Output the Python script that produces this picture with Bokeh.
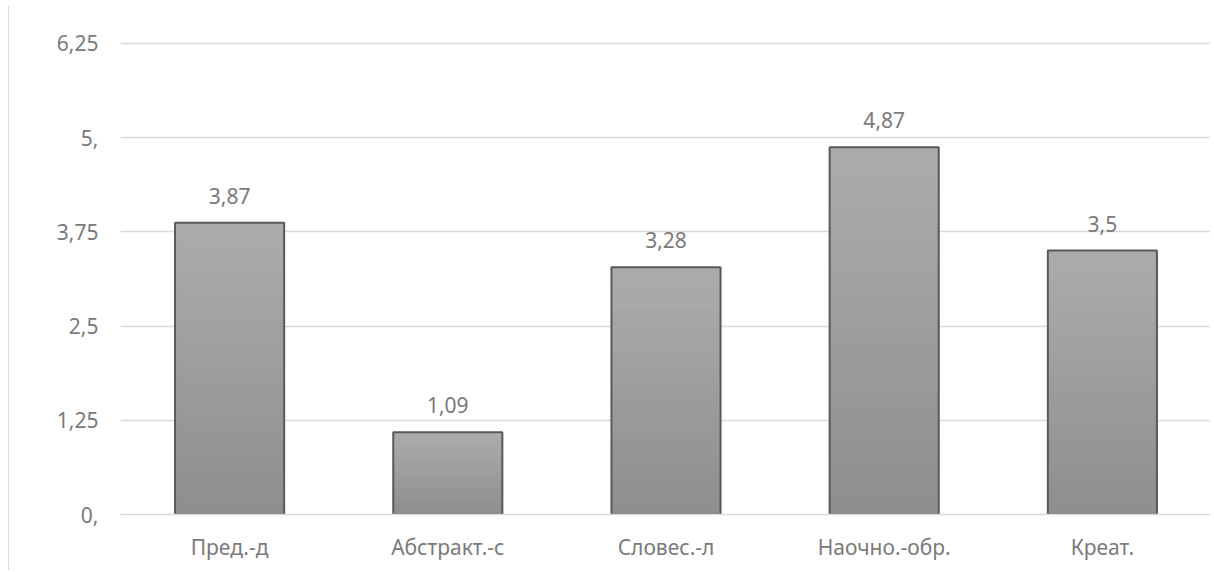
from bokeh.plotting import figure
from bokeh.models import ColumnDataSource, FixedTicker, FactorRange, Range1d
from bokeh.core.properties import value
from bokeh.embed import file_html
from bokeh.resources import INLINE

categories = ["Пред.-д", "Абстракт.-с", "Словес.-л", "Наочно.-обр.", "Креат."]
values = [3.87, 1.09, 3.28, 4.87, 3.5]
y_ticks = [0, 1.25, 2.5, 3.75, 5, 6.25]
y_tick_labels = ["0,", "1,25", "2,5", "3,75", "5,", "6,25"]

FONT = "Noto Sans"
TEXT_COLOR = "#7a7a7a"
FS = "21px"

p = figure(width=1202, height=564, x_range=FactorRange(*categories),
           y_range=Range1d(0, 6.3), output_backend="svg", toolbar_location=None,
           min_border_left=111, min_border_right=0, min_border_top=33, min_border_bottom=56)
p.styles = {"border-left": "1.5px solid #d9d9d9", "margin-left": "8px", "margin-top": "6px"}
p.outline_line_color = None
p.background_fill_color = "white"

# gradient fill via strips (light at top, darker at bottom)
N = 24
top_rgb = (0xAC, 0xAC, 0xAC)
bot_rgb = (0x8E, 0x8E, 0x8E)
sx, sb, st, sc = [], [], [], []
for c, v in zip(categories, values):
    for k in range(N):
        t = (k + 0.5) / N
        rgb = tuple(int(round(b + (a - b) * t)) for a, b in zip(top_rgb, bot_rgb))
        sx.append(c)
        sb.append(v * k / N)
        st.append(min(v, v * (k + 1) / N + 0.03))
        sc.append("#%02x%02x%02x" % rgb)
p.vbar(x=sx, bottom=sb, top=st, width=0.5, fill_color=sc, line_color=None)

src = ColumnDataSource(dict(cat=categories, val=values,
                            lbl=[("%g" % v).replace(".", ",") for v in values]))
p.vbar(x="cat", top="val", width=0.5, source=src, fill_alpha=0,
       line_color="#595959", line_width=2)
p.text(x="cat", y="val", text="lbl", source=src, text_align="center",
       text_baseline="alphabetic", y_offset=-27, text_font=value(FONT),
       text_font_size=FS, text_color=TEXT_COLOR)

p.yaxis.ticker = FixedTicker(ticks=y_ticks)
p.yaxis.major_label_overrides = {t: l for t, l in zip(y_ticks, y_tick_labels)}
p.yaxis.axis_line_color = None
p.yaxis.major_tick_line_color = None
p.yaxis.major_tick_out = 0
p.yaxis.minor_tick_line_color = None
p.yaxis.major_label_standoff = 22
p.yaxis.major_label_text_font = FONT
p.yaxis.major_label_text_font_size = FS
p.yaxis.major_label_text_color = TEXT_COLOR

p.xaxis.axis_line_color = "#d9d9d9"
p.xaxis.axis_line_width = 1.5
p.xaxis.major_tick_line_color = None
p.xaxis.major_tick_out = 0
p.xaxis.minor_tick_line_color = None
p.xaxis.major_label_standoff = 18
p.xaxis.major_label_text_font = FONT
p.xaxis.major_label_text_font_size = FS
p.xaxis.major_label_text_color = TEXT_COLOR

p.xgrid.grid_line_color = None
p.ygrid.grid_line_color = "#d9d9d9"
p.ygrid.grid_line_width = 1.5

open("out.html", "w").write(file_html(p, INLINE))
